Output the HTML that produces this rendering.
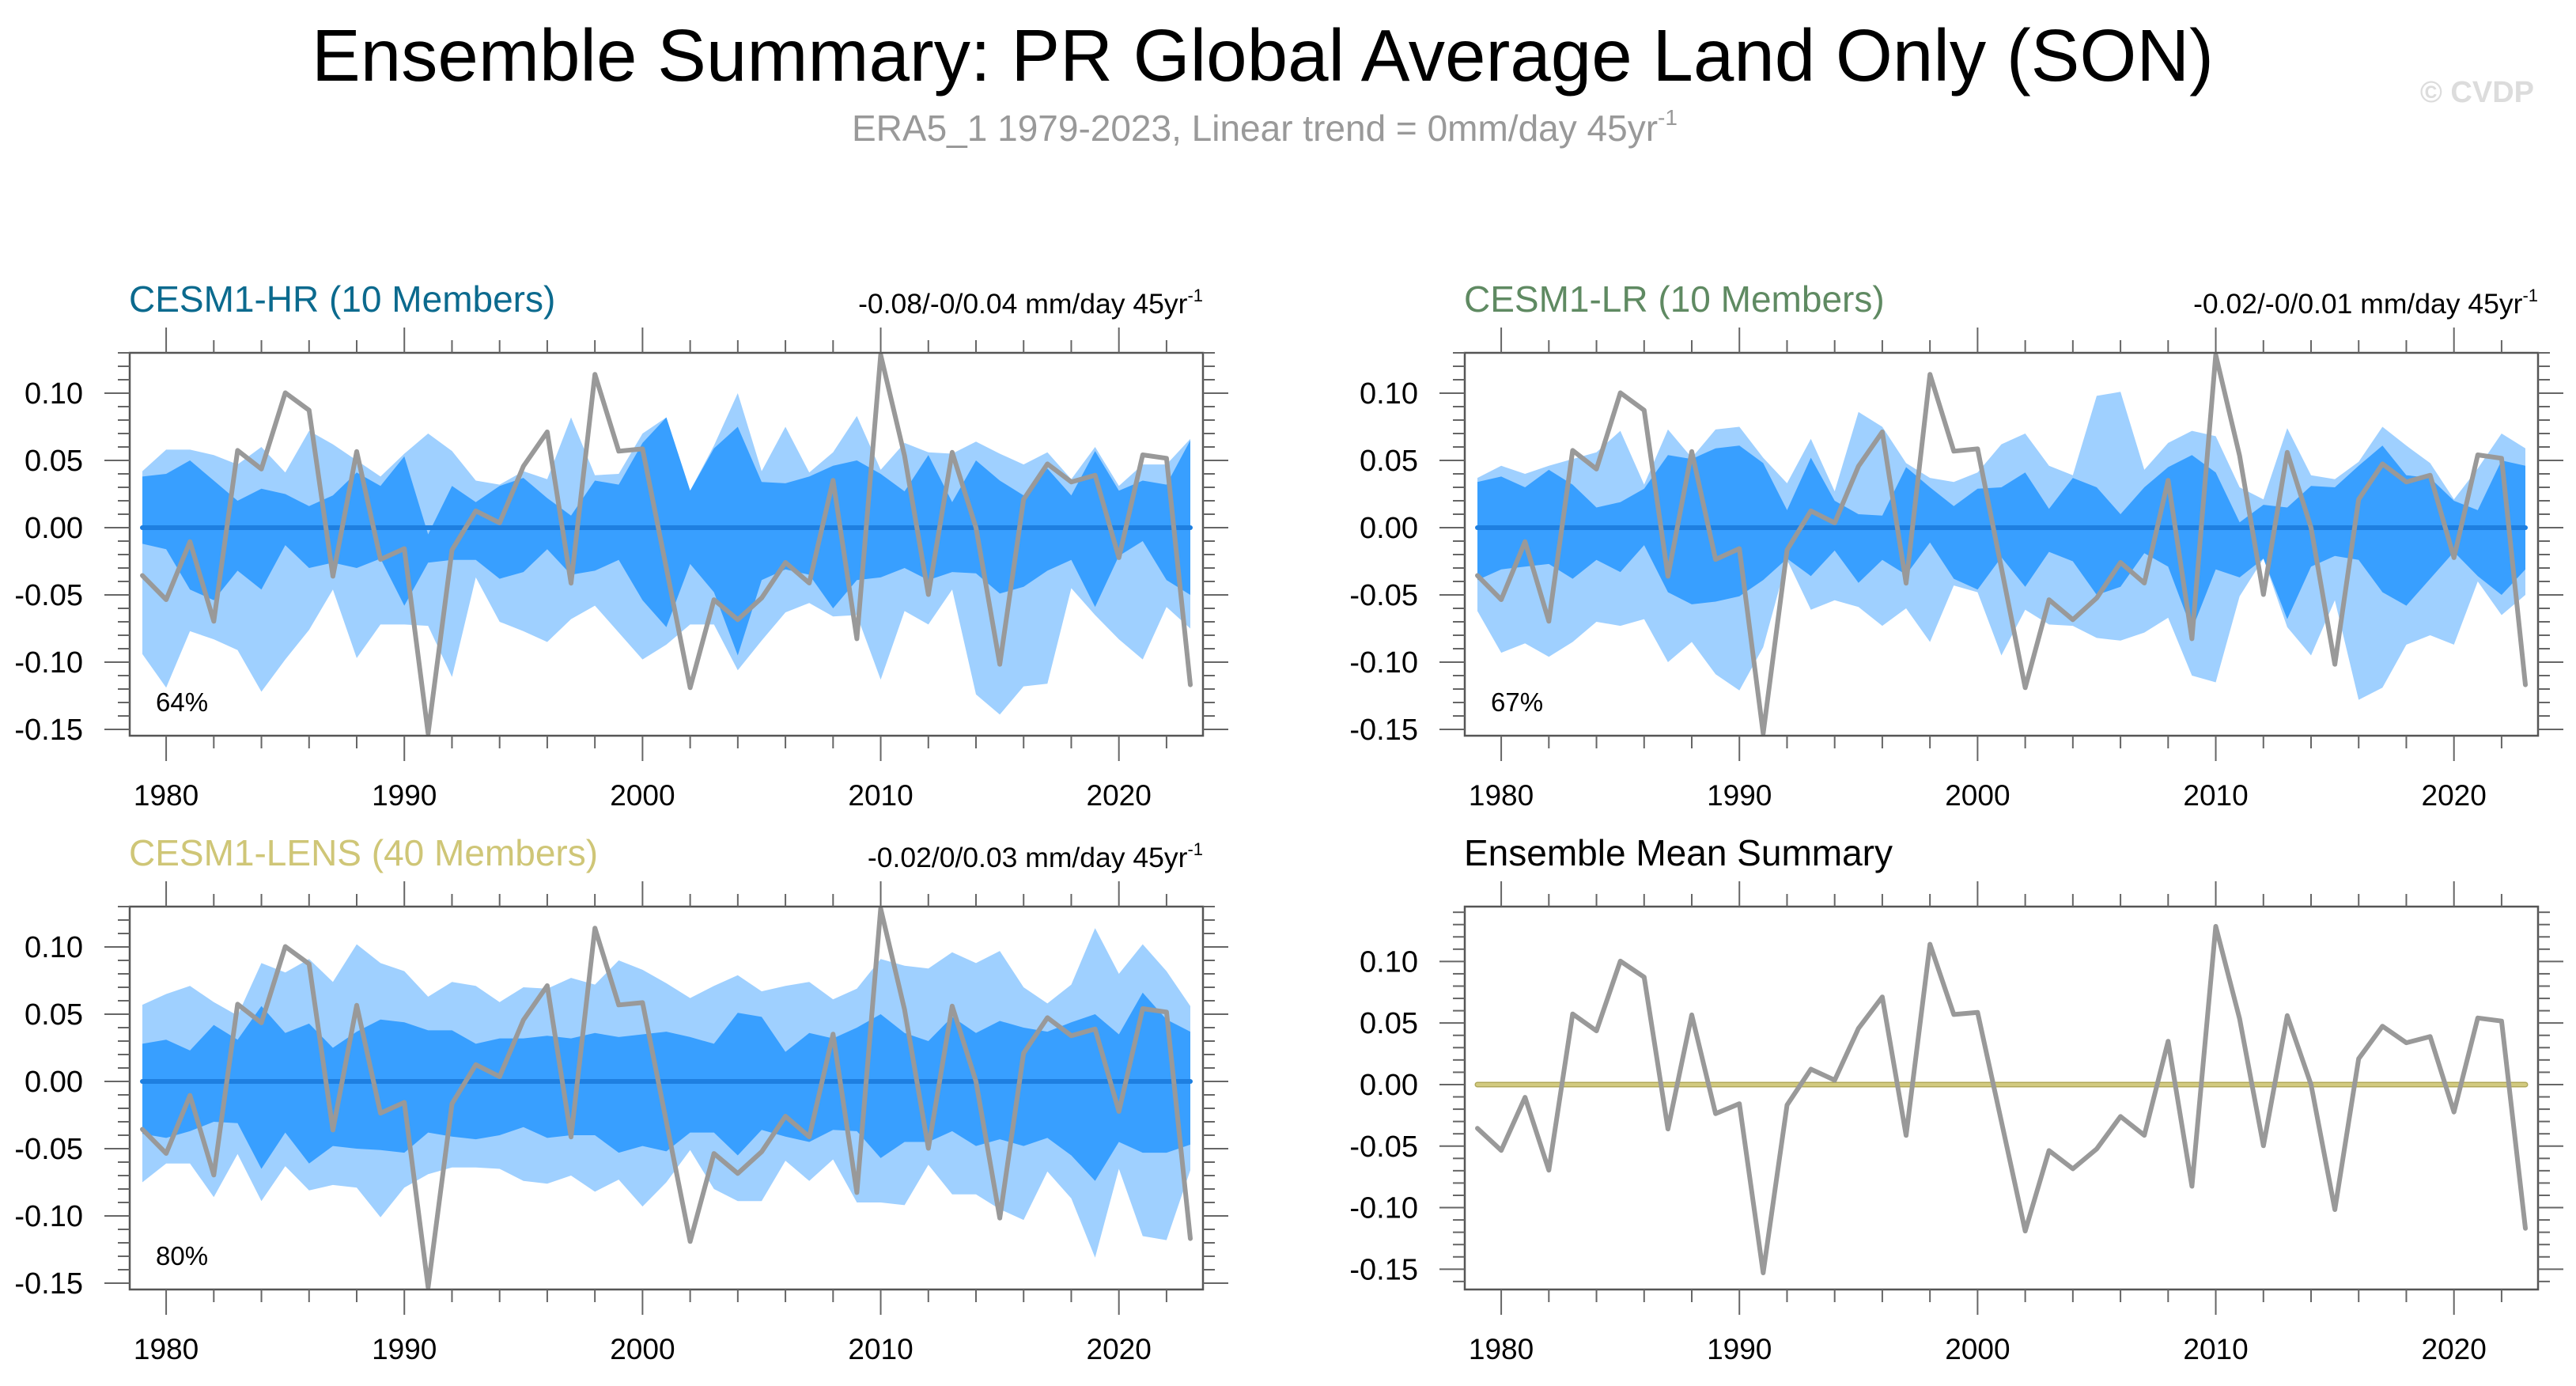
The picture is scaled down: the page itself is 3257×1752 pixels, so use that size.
<!DOCTYPE html>
<html><head><meta charset="utf-8">
<style>
html,body{margin:0;padding:0;background:#fff;}
svg{display:block;font-family:"Liberation Sans",Arial,sans-serif;}
</style></head>
<body>
<svg id="fig" width="3257" height="1752" viewBox="0 0 3257 1752" xmlns="http://www.w3.org/2000/svg">
  <text x="394" y="102" font-size="93" fill="#000" textLength="2405" lengthAdjust="spacingAndGlyphs">Ensemble Summary: PR Global Average Land Only (SON)</text>
  <text x="1077" y="178" font-size="46" fill="#999">ERA5_1 1979-2023, Linear trend = 0mm/day 45yr<tspan font-size="28" dy="-20">-1</tspan></text>
  <text x="3204" y="129" font-size="38" font-weight="bold" fill="#dcdcdc" text-anchor="end">© CVDP</text>
  <g id="panels"></g>
</svg>
<script>
const years = [];
for (let y = 1979; y <= 2023; y++) years.push(y);

const eraValues = [-0.0356,-0.0535,-0.0104,-0.0696,0.0574,0.0436,0.1003,0.0873,-0.0361,0.0566,-0.0236,-0.0156,-0.153,-0.0166,0.0125,0.0036,0.0457,0.0712,-0.0413,0.114,0.0569,0.0586,-0.03,-0.119,-0.0536,-0.0684,-0.0523,-0.0259,-0.0412,0.0352,-0.0826,0.1285,0.0534,-0.0497,0.056,0.0,-0.1016,0.021,0.0474,0.034,0.039,-0.0223,0.0541,0.0516,-0.1168];

const meanValues = [0,0,0,0,0,0,0,0,0,0,0,0,0,0,0,0,0,0,0,0,0,0,0,0,0,0,0,0,0,0,0,0,0,0,0,0,0,0,0,0,0,0,0,0,0];

// CESM1-HR
const hrLightUpper = [0.042,0.058,0.058,0.054,0.047,0.06,0.041,0.072,0.062,0.05,0.038,0.055,0.07,0.057,0.035,0.032,0.042,0.036,0.082,0.039,0.04,0.07,0.082,0.0275,0.061,0.1,0.042,0.075,0.041,0.056,0.083,0.043,0.063,0.056,0.055,0.064,0.055,0.047,0.056,0.036,0.06,0.031,0.047,0.047,0.066];
const hrDarkUpper = [0.038,0.04,0.05,0.035,0.02,0.029,0.025,0.016,0.024,0.041,0.031,0.053,-0.005,0.031,0.019,0.031,0.037,0.022,0.009,0.035,0.032,0.063,0.082,0.0275,0.059,0.075,0.034,0.033,0.038,0.046,0.05,0.04,0.027,0.054,0.019,0.05,0.035,0.024,0.044,0.024,0.057,0.0275,0.035,0.032,0.065];
const hrDarkLower = [-0.012,-0.016,-0.046,-0.054,-0.032,-0.046,-0.013,-0.03,-0.026,-0.03,-0.023,-0.058,-0.026,-0.024,-0.024,-0.038,-0.033,-0.016,-0.035,-0.032,-0.024,-0.054,-0.074,-0.027,-0.048,-0.095,-0.039,-0.031,-0.035,-0.06,-0.039,-0.037,-0.03,-0.039,-0.033,-0.034,-0.049,-0.044,-0.032,-0.024,-0.059,-0.021,-0.01,-0.039,-0.05];
const hrLightLower = [-0.094,-0.119,-0.077,-0.083,-0.091,-0.122,-0.098,-0.076,-0.046,-0.097,-0.072,-0.072,-0.073,-0.111,-0.037,-0.07,-0.077,-0.085,-0.068,-0.058,-0.078,-0.098,-0.087,-0.072,-0.072,-0.106,-0.084,-0.063,-0.056,-0.066,-0.065,-0.113,-0.062,-0.072,-0.046,-0.124,-0.139,-0.118,-0.116,-0.045,-0.065,-0.083,-0.098,-0.059,-0.075];

// CESM1-LR
const lrLightUpper = [0.037,0.046,0.04,0.046,0.051,0.056,0.072,0.032,0.073,0.052,0.073,0.075,0.052,0.033,0.066,0.027,0.086,0.075,0.048,0.037,0.034,0.041,0.062,0.07,0.046,0.039,0.098,0.101,0.043,0.063,0.072,0.068,0.03,0.021,0.074,0.039,0.036,0.049,0.075,0.061,0.048,0.021,0.044,0.07,0.059];
const lrDarkUpper = [0.034,0.038,0.03,0.043,0.032,0.015,0.019,0.029,0.054,0.051,0.059,0.061,0.048,0.013,0.052,0.02,0.01,0.009,0.045,0.03,0.016,0.029,0.03,0.041,0.014,0.037,0.03,0.01,0.03,0.045,0.054,0.041,0.004,0.017,0.015,0.031,0.03,0.046,0.061,0.039,0.037,0.02,0.013,0.05,0.046];
const lrDarkLower = [-0.039,-0.031,-0.029,-0.027,-0.038,-0.024,-0.033,-0.013,-0.048,-0.057,-0.055,-0.051,-0.039,-0.023,-0.036,-0.017,-0.041,-0.024,-0.035,-0.011,-0.038,-0.046,-0.022,-0.044,-0.018,-0.025,-0.05,-0.044,-0.019,-0.029,-0.076,-0.031,-0.037,-0.023,-0.068,-0.029,-0.021,-0.024,-0.048,-0.058,-0.038,-0.018,-0.036,-0.05,-0.031];
const lrLightLower = [-0.062,-0.093,-0.086,-0.096,-0.085,-0.07,-0.073,-0.068,-0.1,-0.085,-0.109,-0.121,-0.089,-0.024,-0.061,-0.054,-0.059,-0.073,-0.06,-0.085,-0.043,-0.048,-0.095,-0.061,-0.072,-0.073,-0.082,-0.084,-0.078,-0.067,-0.11,-0.115,-0.051,-0.023,-0.074,-0.095,-0.054,-0.128,-0.119,-0.087,-0.08,-0.087,-0.04,-0.065,-0.05];

// CESM1-LENS
const lensLightUpper = [0.057,0.065,0.071,0.059,0.049,0.088,0.081,0.091,0.074,0.102,0.088,0.082,0.063,0.074,0.071,0.059,0.07,0.069,0.077,0.072,0.09,0.083,0.073,0.062,0.071,0.079,0.067,0.071,0.074,0.061,0.069,0.091,0.086,0.084,0.096,0.088,0.097,0.07,0.058,0.072,0.114,0.08,0.102,0.082,0.056];
const lensDarkUpper = [0.028,0.031,0.023,0.042,0.031,0.056,0.036,0.043,0.025,0.037,0.046,0.044,0.038,0.038,0.028,0.032,0.032,0.034,0.032,0.036,0.033,0.035,0.037,0.033,0.028,0.051,0.048,0.022,0.036,0.032,0.04,0.05,0.036,0.03,0.048,0.036,0.045,0.04,0.037,0.044,0.05,0.035,0.066,0.046,0.037];
const lensDarkLower = [-0.039,-0.042,-0.037,-0.03,-0.031,-0.065,-0.038,-0.061,-0.048,-0.05,-0.051,-0.053,-0.038,-0.041,-0.043,-0.04,-0.034,-0.042,-0.04,-0.04,-0.053,-0.048,-0.052,-0.038,-0.038,-0.055,-0.036,-0.041,-0.045,-0.036,-0.037,-0.057,-0.045,-0.045,-0.037,-0.048,-0.043,-0.048,-0.042,-0.055,-0.074,-0.045,-0.053,-0.053,-0.047];
const lensLightLower = [-0.075,-0.061,-0.061,-0.086,-0.054,-0.089,-0.063,-0.081,-0.077,-0.079,-0.101,-0.079,-0.069,-0.064,-0.064,-0.065,-0.074,-0.076,-0.07,-0.082,-0.073,-0.093,-0.075,-0.051,-0.08,-0.089,-0.089,-0.059,-0.074,-0.058,-0.09,-0.09,-0.092,-0.062,-0.084,-0.084,-0.095,-0.103,-0.067,-0.087,-0.131,-0.065,-0.115,-0.118,-0.066];

const yTickLabels = ["0.10","0.05","0.00","-0.05","-0.10","-0.15"];
const yTickValues = [0.10,0.05,0.00,-0.05,-0.10,-0.15];
const xTickLabels = ["1980","1990","2000","2010","2020"];
const xTickValues = [1980,1990,2000,2010,2020];

const NS = "http://www.w3.org/2000/svg";
const root = document.getElementById('panels');
function mk(tag, attrs, parent) {
  const e = document.createElementNS(NS, tag);
  for (const k in attrs) e.setAttribute(k, attrs[k]);
  (parent || root).appendChild(e);
  return e;
}

function drawPanel(cfg) {
  const L = cfg.left, T = cfg.top, W = 1357, H = 484;
  const xmin = 1978.47, xmax = 2023.53;
  const sx = v => L + (v - xmin) / (xmax - xmin) * W;
  const sy = v => T + (cfg.ymax - v) / (cfg.ymax - cfg.ymin) * H;
  const g = mk('g', {});
  
  

  function band(upper, lower, color, nm) {
    let d = '';
    years.forEach((yr, i) => { d += (i ? 'L' : 'M') + sx(yr).toFixed(1) + ',' + sy(upper[i]).toFixed(1); });
    for (let i = years.length - 1; i >= 0; i--) d += 'L' + sx(years[i]).toFixed(1) + ',' + sy(lower[i]).toFixed(1);
    const p = mk('path', {d: d + 'Z', fill: color}, g);
    
    
  }
  function line(vals, color, width, nm) {
    let d = '';
    years.forEach((yr, i) => { d += (i ? 'L' : 'M') + sx(yr).toFixed(1) + ',' + sy(vals[i]).toFixed(1); });
    const p = mk('path', {d: d, fill: 'none', stroke: color, 'stroke-width': width, 'stroke-linejoin': 'round', 'stroke-linecap': 'round'}, g);
    
    
  }

  if (cfg.bands) {
    band(cfg.bands[0], cfg.bands[3], '#9fd0ff', 'outer-spread-band');
    band(cfg.bands[1], cfg.bands[2], '#389fff', 'inner-spread-band');
    line(meanValues, '#1e7fe0', 6, 'ensemble-mean-line');
  } else {
    line(meanValues, '#b0a85a', 7, 'ensemble-mean-zero-line-edge');
    line(meanValues, '#d2ca80', 4, 'ensemble-mean-zero-line');
  }
  line(eraValues, '#999999', 6, 'era5-observed-line');

  const box = mk('rect', {x: L, y: T, width: W, height: H, fill: 'none', stroke: '#555', 'stroke-width': 2.5}, g);
  
  

  const tg = mk('g', {stroke: '#666', 'stroke-width': 2}, g);
  
  
  for (let k = -20; k <= 20; k++) {
    const v = k / 100;
    if (v < cfg.ymin - 1e-9 || v > cfg.ymax + 1e-9) continue;
    const major = (k % 5 === 0);
    const len = major ? 32 : 15;
    const y = sy(v);
    mk('line', {x1: L - len, y1: y, x2: L, y2: y}, tg);
    mk('line', {x1: L + W, y1: y, x2: L + W + len, y2: y}, tg);
  }
  for (let yr = 1980; yr <= 2022; yr += 2) {
    const major = (yr % 10 === 0);
    const len = major ? 32 : 16;
    const x = sx(yr);
    mk('line', {x1: x, y1: T - len, x2: x, y2: T}, tg);
    mk('line', {x1: x, y1: T + H, x2: x, y2: T + H + len}, tg);
  }
  yTickLabels.forEach((lab, i) => {
    const t = mk('text', {x: L - 59, y: sy(yTickValues[i]) + 13, 'font-size': 38, 'text-anchor': 'end', fill: '#000'}, g);
    t.textContent = lab;
    
    
  });
  xTickLabels.forEach((lab, i) => {
    const t = mk('text', {x: sx(xTickValues[i]), y: T + H + 88, 'font-size': 37, 'text-anchor': 'middle', fill: '#000'}, g);
    t.textContent = lab;
    
    
  });

  const title = mk('text', {x: L - 1, y: T - 52, 'font-size': 46, fill: cfg.titleColor}, g);
  title.textContent = cfg.title;
  
  

  if (cfg.trend) {
    const tr = mk('text', {x: L + W, y: T - 50, 'font-size': 35.5, 'text-anchor': 'end', fill: '#000'}, g);
    
    
    const a = mk('tspan', {}, tr); a.textContent = cfg.trend + ' mm/day 45yr';
    const b = mk('tspan', {'font-size': 22, dy: -15}, tr); b.textContent = '-1';
  }
  if (cfg.pct) {
    const pc = mk('text', {x: L + 33, y: T + H - 31, 'font-size': 33, fill: '#000'}, g);
    pc.textContent = cfg.pct;
    
    
  }
}

drawPanel({name: 'panel-cesm1-hr', left: 164, top: 446, ymin: -0.1547, ymax: 0.13, title: 'CESM1-HR (10 Members)', titleColor: '#0b6a8e', trend: '-0.08/-0/0.04', pct: '64%', bands: [hrLightUpper, hrDarkUpper, hrDarkLower, hrLightLower]});
drawPanel({name: 'panel-cesm1-lr', left: 1852, top: 446, ymin: -0.1547, ymax: 0.13, title: 'CESM1-LR (10 Members)', titleColor: '#5f8a62', trend: '-0.02/-0/0.01', pct: '67%', bands: [lrLightUpper, lrDarkUpper, lrDarkLower, lrLightLower]});
drawPanel({name: 'panel-cesm1-lens', left: 164, top: 1146, ymin: -0.1547, ymax: 0.13, title: 'CESM1-LENS (40 Members)', titleColor: '#cfc677', trend: '-0.02/0/0.03', pct: '80%', bands: [lensLightUpper, lensDarkUpper, lensDarkLower, lensLightLower]});
drawPanel({name: 'panel-ensemble-mean-summary', left: 1852, top: 1146, ymin: -0.1665, ymax: 0.1446, title: 'Ensemble Mean Summary', titleColor: '#000', trend: null, pct: null, bands: null});
</script>
</body></html>
